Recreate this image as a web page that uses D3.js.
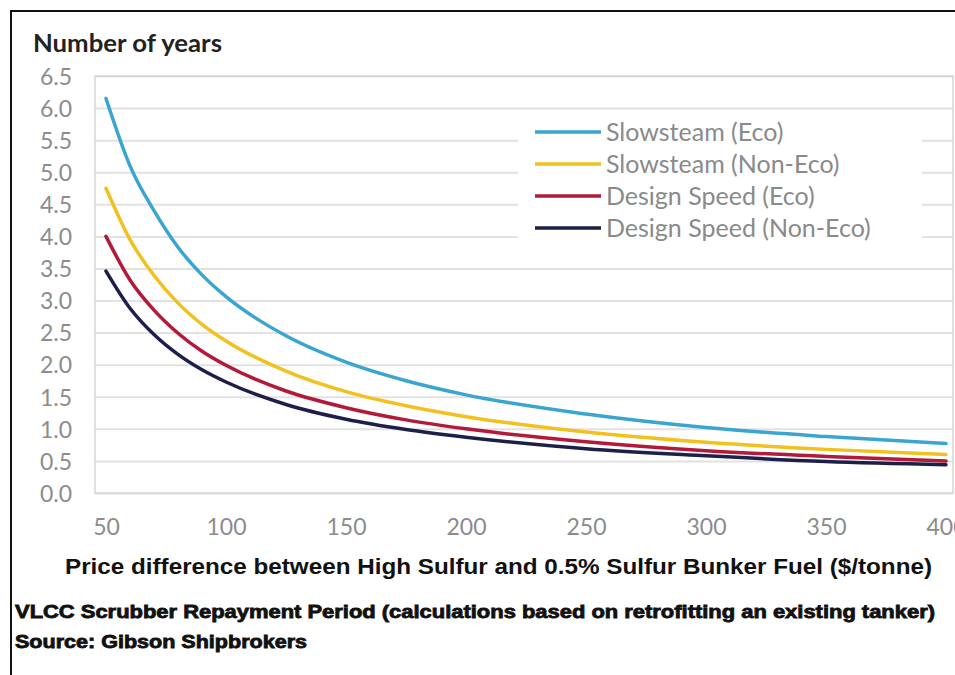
<!DOCTYPE html>
<html>
<head>
<meta charset="utf-8">
<script src="https://cdn.jsdelivr.net/npm/d3@7/dist/d3.min.js"></script>
<style>
  html, body { margin: 0; padding: 0; background: #fff; }
  svg { display: block; }
</style>
</head>
<body>
<svg id="chart" width="955" height="675"></svg>
<script>
// Price difference ($/tonne) at which repayment periods are given
const priceDiff = [50, 60, 70, 80, 90, 100, 125, 150, 175, 200, 250, 300, 350, 400];

// Repayment period (years) for each operating profile
const slowsteamEco    = [6.15, 5.10, 4.40, 3.83, 3.40, 3.06, 2.45, 2.04, 1.75, 1.53, 1.23, 1.02, 0.88, 0.77];
const slowsteamNonEco = [4.75, 3.95, 3.39, 2.96, 2.63, 2.37, 1.90, 1.58, 1.36, 1.19, 0.95, 0.79, 0.68, 0.60];
const designSpeedEco  = [4.00, 3.32, 2.85, 2.49, 2.21, 1.99, 1.59, 1.33, 1.14, 1.00, 0.80, 0.66, 0.57, 0.50];
const designSpeedNonEco = [3.46, 2.88, 2.47, 2.16, 1.92, 1.73, 1.38, 1.15, 0.99, 0.87, 0.69, 0.58, 0.49, 0.44];

const seriesNames = ["Slowsteam (Eco)", "Slowsteam (Non-Eco)", "Design Speed (Eco)", "Design Speed (Non-Eco)"];
const seriesColors = ["#3aa6d0", "#f2c11f", "#b31939", "#1d1f4b"];
const xTicks = [50, 100, 150, 200, 250, 300, 350, 400];
const yTicks = [0, 0.5, 1, 1.5, 2, 2.5, 3, 3.5, 4, 4.5, 5, 5.5, 6, 6.5];

const seriesValues = [slowsteamEco, slowsteamNonEco, designSpeedEco, designSpeedNonEco];

const svg = d3.select("#chart");

// outer frame
svg.append("line").attr("x1", 10).attr("x2", 955).attr("y1", 11).attr("y2", 11)
  .attr("stroke", "#111").attr("stroke-width", 2);
svg.append("line").attr("x1", 11).attr("x2", 11).attr("y1", 10).attr("y2", 675)
  .attr("stroke", "#111").attr("stroke-width", 2);
svg.append("text").attr("x", 2).attr("y", -3).attr("font-family", "Lato")
  .attr("font-size", 16).attr("fill", "#1e2a5c").text("p");

const plot = { left: 95, right: 953, top: 76, bottom: 493 };

const x = d3.scaleLinear().domain([50, 400]).range([106, 946]);
const y = d3.scaleLinear().domain([0, 6.5]).range([plot.bottom, plot.top]);

// gridlines
const yGrid = d3.axisLeft(y).tickValues(yTicks)
  .tickSize(-(plot.right - plot.left)).tickFormat("");
svg.append("g").attr("transform", `translate(${plot.left},0)`).call(yGrid)
  .call(g => g.select(".domain").remove())
  .call(g => g.selectAll("line").attr("stroke", "#e2e2e2").attr("stroke-width", 2));

// plot border
svg.append("rect").attr("x", plot.left).attr("y", plot.top)
  .attr("width", plot.right - plot.left).attr("height", plot.bottom - plot.top)
  .attr("fill", "none").attr("stroke", "#d6d6d6").attr("stroke-width", 1.5);

// y tick labels
const yAxis = d3.axisLeft(y).tickValues(yTicks).tickSize(0).tickPadding(0)
  .tickFormat(d3.format(".1f"));
svg.append("g").attr("transform", "translate(72,0)").call(yAxis)
  .call(g => g.select(".domain").remove())
  .call(g => g.selectAll("text").attr("font-family", "Lato").attr("font-size", 23)
    .attr("fill", "#8c8c8c").attr("dy", "0.36em"));

// x tick labels
const xAxis = d3.axisBottom(x).tickValues(xTicks).tickSize(0).tickPadding(0)
  .tickFormat(d3.format("d"));
svg.append("g").attr("transform", "translate(0,535)").call(xAxis)
  .call(g => g.select(".domain").remove())
  .call(g => g.selectAll("text").attr("font-family", "Lato").attr("font-size", 23)
    .attr("fill", "#8c8c8c").attr("dy", 0));

// curves
const line = d3.line().x((d, i) => x(priceDiff[i])).y(d => y(d)).curve(d3.curveMonotoneX);
svg.append("g").selectAll("path").data(seriesValues).join("path")
  .attr("d", d => line(d))
  .attr("fill", "none")
  .attr("stroke", (d, i) => seriesColors[i])
  .attr("stroke-width", 3.5)
  .attr("stroke-linecap", "round");

// legend
const legend = svg.append("g");
legend.append("rect").attr("x", 518).attr("y", 112).attr("width", 404).attr("height", 136)
  .attr("fill", "#fff");
const items = legend.selectAll("g.item").data(seriesNames).join("g")
  .attr("class", "item")
  .attr("transform", (d, i) => `translate(0,${132 + i * 32})`);
items.append("line").attr("x1", 535).attr("x2", 601).attr("y1", 0).attr("y2", 0)
  .attr("stroke", (d, i) => seriesColors[i]).attr("stroke-width", 3.5);
items.append("text").attr("x", 606).attr("y", 0).attr("dy", "0.36em")
  .attr("font-family", "Lato").attr("font-size", 25).attr("fill", "#8a8a8a")
  .text(d => d);

// titles
svg.append("text").attr("x", 33).attr("y", 52).attr("font-family", "Lato")
  .attr("font-weight", 700).attr("font-size", 24).attr("fill", "#222")
  .attr("textLength", 189).attr("lengthAdjust", "spacingAndGlyphs")
  .text("Number of years");

svg.append("text").attr("x", 65).attr("y", 574)
  .attr("font-family", "Liberation Sans, Arial, sans-serif").attr("font-weight", 700)
  .attr("font-size", 22).attr("fill", "#111")
  .attr("textLength", 867).attr("lengthAdjust", "spacingAndGlyphs")
  .text("Price difference between High Sulfur and 0.5% Sulfur Bunker Fuel ($/tonne)");

svg.append("text").attr("x", 15).attr("y", 618)
  .attr("font-family", "Liberation Sans, Arial, sans-serif").attr("font-weight", 900)
  .attr("font-size", 18).attr("fill", "#111")
  .attr("textLength", 920).attr("lengthAdjust", "spacingAndGlyphs")
  .attr("stroke", "#111").attr("stroke-width", 0.8)
  .text("VLCC Scrubber Repayment Period (calculations based on retrofitting an existing tanker)");

svg.append("text").attr("x", 15).attr("y", 648)
  .attr("font-family", "Liberation Sans, Arial, sans-serif").attr("font-weight", 900)
  .attr("font-size", 18).attr("fill", "#111")
  .attr("textLength", 292).attr("lengthAdjust", "spacingAndGlyphs")
  .attr("stroke", "#111").attr("stroke-width", 0.8)
  .text("Source: Gibson Shipbrokers");
</script>
</body>
</html>
